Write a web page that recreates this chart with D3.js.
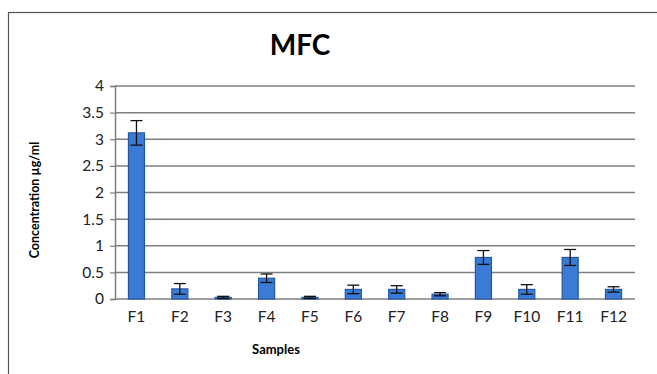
<!DOCTYPE html>
<html>
<head>
<meta charset="utf-8">
<script src="https://cdn.jsdelivr.net/npm/d3@7"></script>
<style>
  body { margin: 0; background: #fff; }
  text { font-family: Lato, "Open Sans", sans-serif; }
</style>
</head>
<body>
<div id="chart-area"></div>
<script>
/* Data */
var samples = ["F1","F2","F3","F4","F5","F6","F7","F8","F9","F10","F11","F12"];
var means   = [3.12, 0.19, 0.03, 0.39, 0.03, 0.18, 0.18, 0.09, 0.78, 0.18, 0.78, 0.18];
var errors  = [0.23, 0.10, 0.02, 0.08, 0.02, 0.08, 0.07, 0.03, 0.13, 0.09, 0.15, 0.05];
var yTicks  = [0, 0.5, 1, 1.5, 2, 2.5, 3, 3.5, 4];

var data = samples.map(function(s, i) { return { name: s, value: means[i], err: errors[i] }; });

/* Margins, width and height */
var margin = { left: 115, right: 22, top: 86, bottom: 75 };
var width = 657 - margin.left - margin.right;
var height = 374 - margin.top - margin.bottom;

var svg = d3.select("#chart-area").append("svg")
  .attr("width", 657)
  .attr("height", 374);

/* Outer frame (runs off the right and bottom edges) */
svg.append("rect")
  .attr("x", 8.5).attr("y", 12.5)
  .attr("width", 700).attr("height", 400)
  .attr("fill", "none")
  .attr("stroke", "#555")
  .attr("stroke-width", 1.2);

var g = svg.append("g")
  .attr("transform", "translate(" + margin.left + ", " + margin.top + ")");

/* Scales */
var x = d3.scaleBand()
  .domain(samples)
  .range([0, width])
  .paddingInner(0.63)
  .paddingOuter(0.31);

var y = d3.scaleLinear()
  .domain([0, 4])
  .range([height, 0]);

/* Gridlines */
g.append("g")
  .selectAll("line")
  .data(yTicks)
  .enter()
  .append("line")
    .attr("x1", 0)
    .attr("x2", width)
    .attr("y1", function(d) { return y(d); })
    .attr("y2", function(d) { return y(d); })
    .attr("stroke", "#7f7f7f")
    .attr("stroke-width", 1.5);

/* Y axis */
var yAxisCall = d3.axisLeft(y)
  .tickValues(yTicks)
  .tickSize(5)
  .tickPadding(6)
  .tickFormat(function(d) { return d; });

var yAxis = g.append("g")
  .attr("class", "y-axis")
  .call(yAxisCall);
yAxis.select(".domain").attr("stroke", "#7f7f7f").attr("stroke-width", 1.5);
yAxis.selectAll(".tick line").attr("stroke", "#7f7f7f").attr("stroke-width", 1.2);
yAxis.selectAll("text")
  .attr("font-size", "15.5px")
  .attr("fill", "#222")
  .style("font-family", "Lato, sans-serif");

/* X axis */
var xAxisCall = d3.axisBottom(x).tickSize(0).tickPadding(12);
var xAxis = g.append("g")
  .attr("class", "x axis")
  .attr("transform", "translate(0, " + height + ")")
  .call(xAxisCall);
xAxis.select(".domain").remove();
xAxis.selectAll("text")
  .attr("font-size", "15.5px")
  .attr("fill", "#222")
  .style("font-family", "Lato, sans-serif");

/* Bars */
g.selectAll("rect.bar")
  .data(data)
  .enter()
  .append("rect")
    .attr("class", "bar")
    .attr("x", function(d) { return x(d.name); })
    .attr("y", function(d) { return y(d.value); })
    .attr("width", x.bandwidth())
    .attr("height", function(d) { return height - y(d.value); })
    .attr("fill", "#3a7bd5")
    .attr("stroke", "#2457a0")
    .attr("stroke-width", 1.2);

/* Error bars */
var eb = g.selectAll("g.err")
  .data(data)
  .enter()
  .append("g")
    .attr("class", "err")
    .attr("stroke", "#111")
    .attr("stroke-width", 1.3);
eb.append("line")
  .attr("x1", function(d) { return x(d.name) + x.bandwidth() / 2; })
  .attr("x2", function(d) { return x(d.name) + x.bandwidth() / 2; })
  .attr("y1", function(d) { return y(d.value + d.err); })
  .attr("y2", function(d) { return y(Math.max(0, d.value - d.err)); });
eb.append("line")
  .attr("x1", function(d) { return x(d.name) + x.bandwidth() / 2 - 6; })
  .attr("x2", function(d) { return x(d.name) + x.bandwidth() / 2 + 6; })
  .attr("y1", function(d) { return y(d.value + d.err); })
  .attr("y2", function(d) { return y(d.value + d.err); });
eb.append("line")
  .attr("x1", function(d) { return x(d.name) + x.bandwidth() / 2 - 6; })
  .attr("x2", function(d) { return x(d.name) + x.bandwidth() / 2 + 6; })
  .attr("y1", function(d) { return y(Math.max(0, d.value - d.err)); })
  .attr("y2", function(d) { return y(Math.max(0, d.value - d.err)); });

/* Labels */
svg.append("text")
  .attr("x", 300)
  .attr("y", 55)
  .attr("font-size", "28px")
  .attr("font-weight", "bold")
  .attr("text-anchor", "middle")
  .text("MFC");

svg.append("text")
  .attr("x", 276)
  .attr("y", 354)
  .attr("font-size", "13px")
  .attr("font-weight", "bold")
  .attr("text-anchor", "middle")
  .text("Samples");

svg.append("text")
  .attr("transform", "translate(39, 200) rotate(-90)")
  .attr("font-size", "12.5px")
  .attr("font-weight", "bold")
  .attr("text-anchor", "middle")
  .text("Concentration µg/ml");
</script>
</body>
</html>
